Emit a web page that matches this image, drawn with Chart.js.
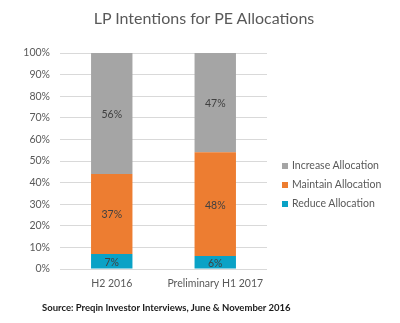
<!DOCTYPE html>
<html>
<head>
<meta charset="utf-8">
<script src="https://cdn.jsdelivr.net/npm/chart.js@4.4.0/dist/chart.umd.js"></script>
<style>
  html, body { margin: 0; padding: 0; background: #fff; }
  #wrap { position: relative; width: 400px; height: 323px; font-family: Lato, "Open Sans", sans-serif; }
  #title { position: absolute; left: 0; width: 408px; top: 8px; text-align: center; font-size: 16px; color: #595959; }
  #legend { position: absolute; left: 282px; top: 158px; font-size: 10.5px; color: #595959; }
  #legend div { height: 19px; line-height: 14px; white-space: nowrap; }
  #legend span { display: inline-block; width: 6px; height: 6px; margin-right: 4px; }
  #source { position: absolute; left: 42px; top: 302px; font-size: 9.5px; font-weight: bold; color: #1a1a1a; white-space: nowrap; }
</style>
</head>
<body>
<div id="wrap">
  <canvas id="chart" width="400" height="323"></canvas>
  <div id="title">LP Intentions for PE Allocations</div>
  <div id="legend"></div>
  <div id="source">Source: Preqin Investor Interviews, June &amp; November 2016</div>
</div>
<script>
// Chart data
const categories = ['H2 2016', 'Preliminary H1 2017'];
const reduceValues = [7, 6];
const maintainValues = [37, 48];
const increaseValues = [56, 47];
const seriesNames = ['Reduce Allocation', 'Maintain Allocation', 'Increase Allocation'];
const seriesColors = ['#0AA2C6', '#ED7D31', '#A5A5A5'];

const textColor = '#595959';
const fontFamily = 'Lato, "Open Sans", sans-serif';

// Segment value labels drawn at each bar's centre (clamped to the plot area)
const segmentLabels = {
    id: 'segmentLabels',
    afterDatasetsDraw(chart) {
        const ctx = chart.ctx;
        const area = chart.chartArea;
        ctx.save();
        ctx.font = '10.5px ' + fontFamily;
        ctx.fillStyle = '#404040';
        ctx.textAlign = 'center';
        ctx.textBaseline = 'middle';
        chart.data.datasets.forEach((dataset, di) => {
            const meta = chart.getDatasetMeta(di);
            meta.data.forEach((bar, i) => {
                const top = Math.max(bar.y, area.top);
                const bottom = Math.min(bar.base, area.bottom);
                ctx.fillText(dataset.data[i] + '%', bar.x, (top + bottom) / 2 + 1);
            });
        });
        ctx.restore();
    }
};

const datasets = [reduceValues, maintainValues, increaseValues].map((values, i) => ({
    label: seriesNames[i],
    data: values,
    backgroundColor: seriesColors[i],
    borderWidth: 0,
    barPercentage: 0.4,
    categoryPercentage: 1.0
}));

new Chart(document.getElementById('chart'), {
    type: 'bar',
    data: { labels: categories, datasets: datasets },
    options: {
        responsive: false,
        animation: false,
        devicePixelRatio: 1,
        layout: { padding: { left: 0, right: 133, top: 53, bottom: 0 } },
        plugins: {
            legend: { display: false },
            title: { display: false },
            tooltip: { enabled: false }
        },
        scales: {
            x: {
                stacked: true,
                grid: { display: false, drawTicks: false },
                border: { display: false },
                ticks: { color: textColor, font: { family: fontFamily, size: 10.5 }, padding: 8 },
                afterFit: (scale) => { scale.height = 54; }
            },
            y: {
                stacked: true,
                min: 0,
                max: 100,
                grid: { color: '#D9D9D9', drawTicks: false },
                border: { display: false },
                ticks: {
                    stepSize: 10,
                    color: textColor,
                    font: { family: fontFamily, size: 10.5 },
                    padding: 10,
                    callback: (v) => v + '%'
                },
                afterFit: (scale) => { scale.width = 60; }
            }
        }
    },
    plugins: [segmentLabels]
});

// Legend, listed top to bottom as in the original
const legend = document.getElementById('legend');
for (let i = seriesNames.length - 1; i >= 0; i--) {
    const row = document.createElement('div');
    const box = document.createElement('span');
    box.style.background = seriesColors[i];
    row.appendChild(box);
    row.appendChild(document.createTextNode(seriesNames[i]));
    legend.appendChild(row);
}
</script>
</body>
</html>
